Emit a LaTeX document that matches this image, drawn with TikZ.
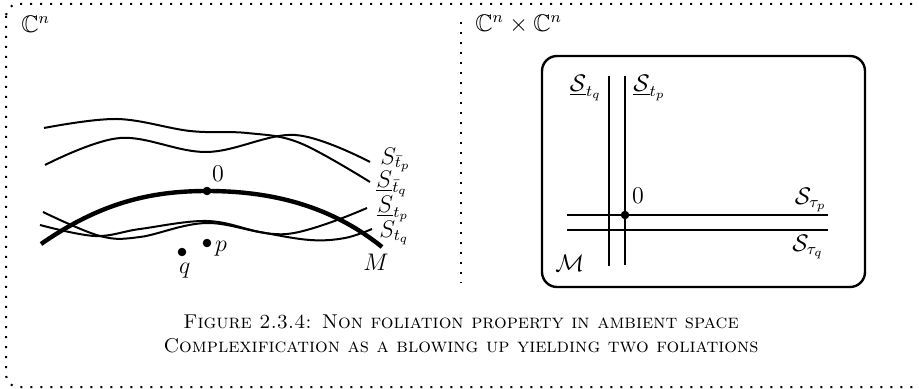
\documentclass[tikz,border=0pt]{standalone}
\usepackage{amsmath}
\usepackage{amssymb}
\usetikzlibrary{positioning, calc}
\tikzset{%
   % one unit is one pixel of the target
   px/.style={x=0.5pt, y=-0.5pt},
   leaf/.style={line width=1pt},
   base/.style={line width=2.2pt},
   frameline/.style={line width=1pt, dash pattern=on 1pt off 4pt},
   dot/.style={
      circle,
      inner sep=0mm,
      outer sep=0mm,
      minimum size=3.8pt,
      draw=black,
      fill=black
   },
   lbl/.style={inner sep=1pt, font=\large},
}
\begin{document}
\begin{tikzpicture}[px]
  \useasboundingbox (0,0) rectangle (919,389);
  % frame and divider
  \draw[frameline, rounded corners=6pt] (6,4) rectangle (940,387);
  \draw[frameline] (461,22) -- (461,283);

  % left panel: ambient space
  \node[lbl, anchor=west] (Cn) at (19,24) {$\mathbb{C}^n$};
  \draw[leaf] plot[smooth, tension=.6] coordinates
    {(44,128) (117,119) (190,131) (247,133) (300,143) (370,182)};
  \draw[leaf] plot[smooth, tension=.6] coordinates
    {(45,165) (120,138) (207,152) (295,135) (370,162)};
  \draw[leaf] plot[smooth, tension=.6] coordinates
    {(43,212) (100,236) (140,237) (207,223) (287,234) (367,208)};
  \draw[leaf] plot[smooth, tension=.6] coordinates
    {(40,225) (95,236) (140,229) (207,221) (260,232) (310,240) (345,238) (372,229)};
  \draw[base] (41,244) .. controls (100,203) and (150,191) .. (207,191)
              .. controls (270,191) and (330,205) .. (382,247);
  \node[dot] (o) at (207,191) {};
  \node[lbl, above right=2pt and 0pt of o] (olbl) {$0$};
  \node[dot] (p) at (207,243) {};
  \node[lbl, right=1pt of p, yshift=-3pt] (plbl) {$p$};
  \node[dot] (q) at (182,252) {};
  \node[lbl, below right=3pt and -4pt of q] (qlbl) {$q$};
  \node[lbl, anchor=north] (M) at (376,252) {$M$};
  \node[lbl, anchor=west] (Sbp) at (378,160) {$S_{\bar t_p}$};
  \node[lbl, anchor=west] (Sbq) at (374,184) {$\underline{S}_{\bar t_q}$};
  \node[lbl, anchor=west] (Stp) at (375,209) {$\underline{S}_{t_p}$};
  \node[lbl, anchor=west] (Stq) at (377,233) {$S_{t_q}$};

  % right panel: complexification
  \node[lbl, anchor=west] (CnCn) at (473,24) {$\mathbb{C}^n\times\mathbb{C}^n$};
  \draw[line width=1.2pt, rounded corners=7.5pt] (542,56) rectangle (865,287);
  \draw[leaf] (609,76) -- (609,266);
  \draw[leaf] (625,76) -- (625,265);
  \draw[leaf] (567,215) -- (828,215);
  \draw[leaf] (567,230) -- (828,230);
  \node[dot] (o2) at (625,215) {};
  \node[lbl, above right=3pt and 1pt of o2] (o2lbl) {$0$};
  \node[lbl, anchor=east] (Stq2) at (604,88) {$\underline{\mathcal{S}}_{t_q}$};
  \node[lbl, anchor=west] (Stp2) at (631,88) {$\underline{\mathcal{S}}_{t_p}$};
  \node[lbl, anchor=east] (Stau1) at (829,200) {$\mathcal{S}_{\tau_p}$};
  \node[lbl, anchor=east] (Stau2) at (826,247) {$\mathcal{S}_{\tau_q}$};
  \node[lbl, anchor=west] (Mcal) at (553,263) {$\mathcal{M}$};

  % caption
  \node[align=center, font=\scshape] (cap) at (461,334)
    {Figure 2.3.4: Non foliation property in ambient space\\
     Complexification as a blowing up yielding two foliations};
\end{tikzpicture}
\end{document}
